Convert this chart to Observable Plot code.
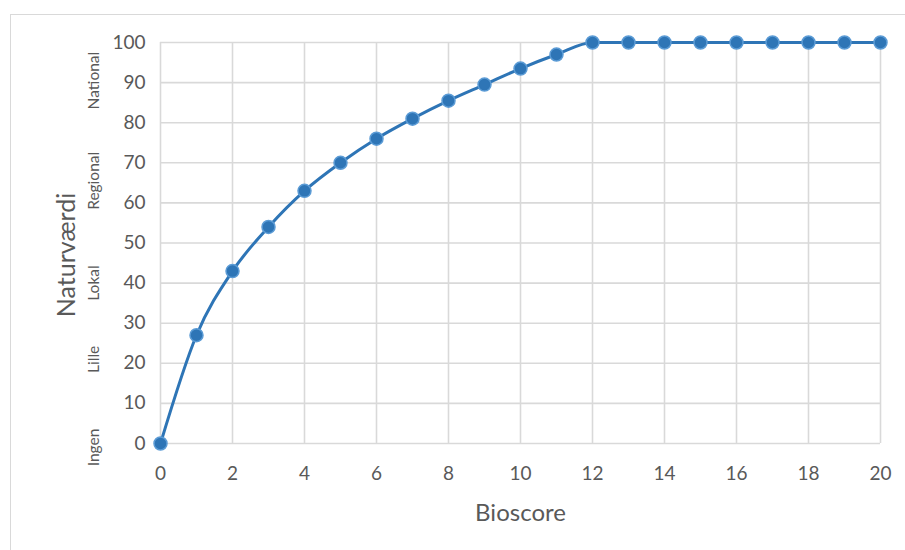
<!DOCTYPE html>
<html>
<head>
<meta charset="utf-8">
<script src="https://cdn.jsdelivr.net/npm/d3@7"></script>
<script src="https://cdn.jsdelivr.net/npm/@observablehq/plot@0.6"></script>
<style>
  html, body { margin: 0; padding: 0; background: #fff; overflow: hidden; }
  #wrap { position: relative; width: 905px; height: 550px; }
  #frame {
    position: absolute; left: 10px; top: 14px; width: 1000px; height: 700px;
    border: 1.5px solid #d9d9d9; box-sizing: border-box;
  }
  #chart { position: absolute; left: 0; top: 0; }
</style>
</head>
<body>
<div id="wrap"><div id="frame"></div><div id="chart"></div></div>
<script>
// Bioscore (x) against nature value (y)
const bioscore = [0, 1, 2, 3, 4, 5, 6, 7, 8, 9, 10, 11, 12, 13, 14, 15, 16, 17, 18, 19, 20];
const naturvaerdi = [0, 27, 43, 54, 63, 70, 76, 81, 85.5, 89.5, 93.5, 97, 100, 100, 100, 100, 100, 100, 100, 100, 100];

// Tick values
const xTicks = [0, 2, 4, 6, 8, 10, 12, 14, 16, 18, 20];
const yTicks = [0, 10, 20, 30, 40, 50, 60, 70, 80, 90, 100];

// Value classes written beside the y axis, with the level they sit at
const levelNames = ["Ingen", "Lille", "Lokal", "Regional", "National"];
const levelPos = [-1, 21, 40, 65.5, 90.5];

const points = bioscore.map((b, i) => ({b, v: naturvaerdi[i]}));
const levels = levelNames.map((name, i) => ({name, v: levelPos[i]}));

const blue = "#2e75b6";
const grey = "#595959";

const chart = Plot.plot({
  width: 905,
  height: 550,
  marginLeft: 160,
  marginRight: 25,
  marginTop: 42,
  marginBottom: 107,
  style: {fontFamily: "Lato, 'Open Sans', sans-serif", color: grey, background: "transparent"},
  x: {domain: [0, 20]},
  y: {domain: [0, 100]},
  marks: [
    Plot.gridX(xTicks, {stroke: "#d9d9d9", strokeOpacity: 1, strokeWidth: 1.6}),
    Plot.gridY(yTicks, {stroke: "#d9d9d9", strokeOpacity: 1, strokeWidth: 1.6}),
    Plot.axisX(xTicks, {tickSize: 0, tickPadding: 23, fontSize: 19, label: null}),
    Plot.axisY(yTicks, {tickSize: 0, tickPadding: 15, fontSize: 19, label: null}),
    Plot.line(points, {x: "b", y: "v", curve: "monotone-x", stroke: blue, strokeWidth: 3}),
    Plot.dot(points, {x: "b", y: "v", r: 6.5, fill: blue, stroke: "#5b9bd5", strokeWidth: 1.5}),
    Plot.text(levels, {y: "v", text: "name", frameAnchor: "left", dx: -66, rotate: -90,
      textAnchor: "middle", lineAnchor: "middle", fontSize: 15.5, fill: grey}),
    Plot.text(["Naturværdi"], {text: d => d, frameAnchor: "left", dx: -94, dy: 12, rotate: -90,
      textAnchor: "middle", lineAnchor: "middle", fontSize: 25, fill: grey}),
    Plot.text(["Bioscore"], {text: d => d, frameAnchor: "bottom", dy: 70,
      textAnchor: "middle", lineAnchor: "middle", fontSize: 24, fill: grey})
  ]
});
document.getElementById("chart").appendChild(chart);
</script>
</body>
</html>
